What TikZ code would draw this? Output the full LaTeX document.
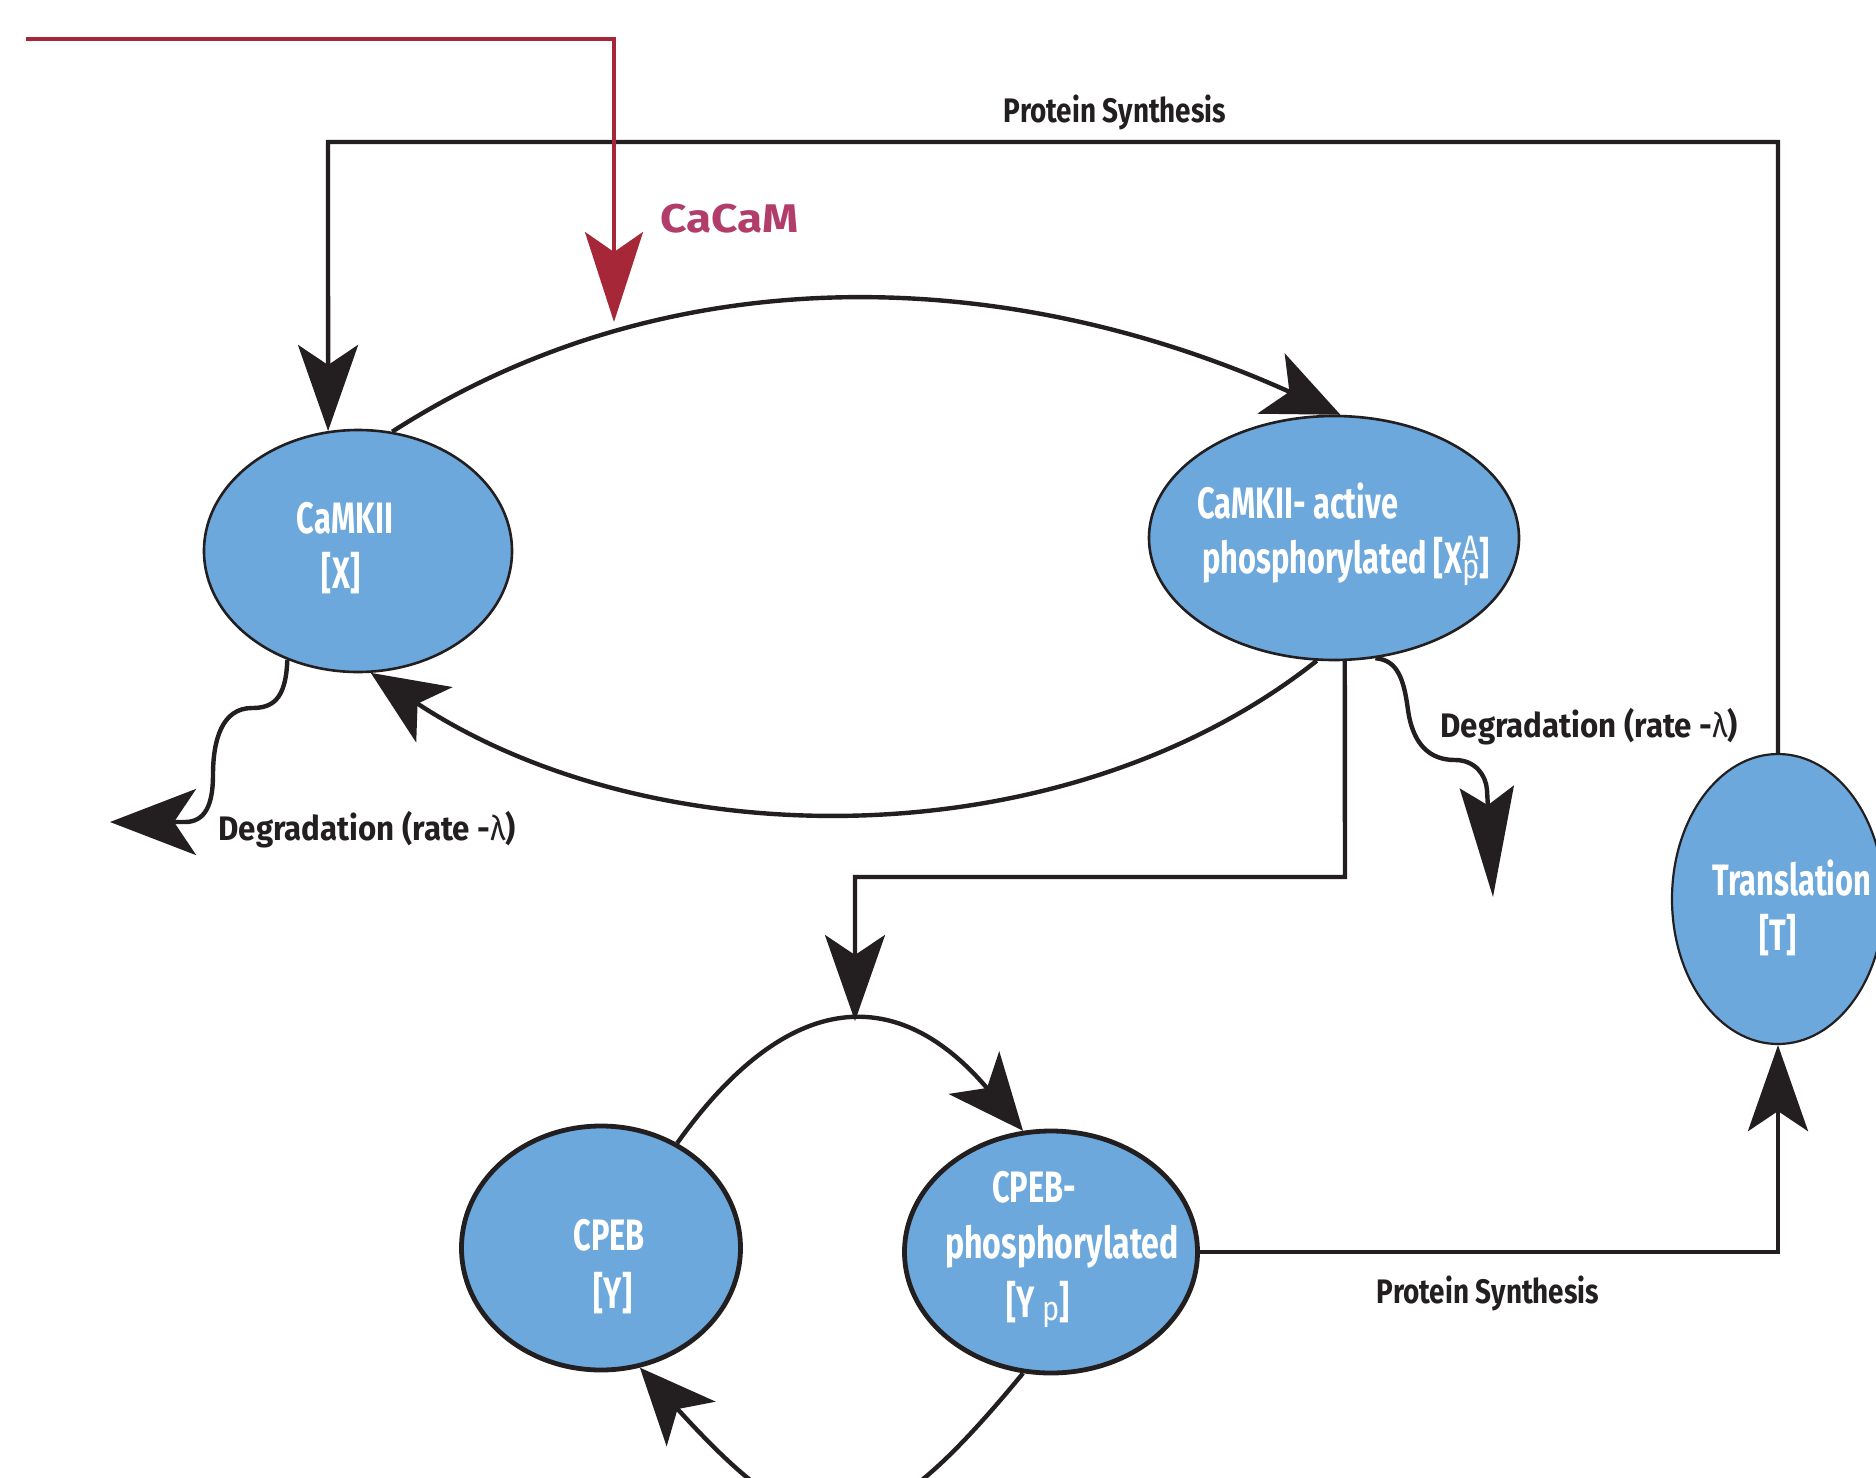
\documentclass[tikz,border=0pt]{standalone}
\usepackage{fontspec}
\usetikzlibrary{shapes.geometric,arrows.meta}
\setmainfont{Fira Sans}
\newfontfamily\condfam[FakeStretch=0.7]{Fira Sans}
\newfontfamily\condwfam[FakeStretch=0.73]{Fira Sans}
\newfontfamily\labfam[FakeStretch=0.82]{Fira Sans}
\newfontfamily\degfam[FakeStretch=0.92]{Fira Sans}
\newfontfamily\supfam[FakeStretch=0.85]{Fira Sans}
\newfontfamily\cafam[FakeStretch=1.15]{Fira Sans}
\newcommand\ndfont{\condfam\bfseries\fontsize{22}{27.5}\selectfont}
\newcommand\lbfont{\labfam\bfseries\fontsize{17}{20}\selectfont}
\newcommand\dgfont{\degfam\bfseries\fontsize{17}{20}\selectfont}
\newcommand\smfont{\supfam\mdseries\fontsize{17}{17}\selectfont}
\newcommand\cacamfont{\cafam\bfseries\fontsize{20}{24}\selectfont}
\definecolor{ink}{RGB}{35,31,32}
\definecolor{nodeblue}{RGB}{108,168,220}
\definecolor{redline}{RGB}{166,40,56}
\definecolor{cacam}{RGB}{178,60,106}
\tikzset{
  blob/.style={ellipse, fill=nodeblue, draw=ink, inner sep=0pt},
  conn/.style={draw=ink, line width=2.2pt},
  tipV/.style={-{Stealth[length=43pt,width=30pt,inset=10pt]}},
  tipC/.style={-{Stealth[length=38pt,width=33pt,inset=10pt]}},
  tipL/.style={-{Stealth[length=43pt,width=33pt,inset=11pt]}},
  tipD/.style={-{Stealth[length=55pt,width=27pt,inset=9pt]}},
  ntext/.style={font=\ndfont, text=white, inner sep=0pt},
  lbl/.style={font=\lbfont, text=ink, inner sep=0pt},
  dlbl/.style={font=\dgfont, text=ink, inner sep=0pt},
}
\begin{document}
\begin{tikzpicture}[x=0.5pt,y=-0.5pt]
\useasboundingbox (0,0) rectangle (1876,1478);
\fill[white] (0,0) rectangle (1876,1478);
\clip (0,0) rectangle (1876,1478);

% nodes
\node[blob, line width=1.3pt, minimum width=154pt, minimum height=121pt] (X) at (358,551) {};
\node[blob, line width=1.3pt, minimum width=185pt, minimum height=122pt] (XA) at (1334,538) {};
\node[blob, line width=1.1pt, minimum width=106pt, minimum height=145pt] (T) at (1778,899) {};
\node[blob, line width=2.4pt, minimum width=139.5pt, minimum height=122pt] (Y) at (601,1248) {};
\node[blob, line width=2.4pt, minimum width=146.5pt, minimum height=121pt] (Yp) at (1051,1252) {};

% node texts
\node[ntext, anchor=base] (Xt1) at (345,533) {CaMKII};
\node[ntext, anchor=base] (Xt2) at (341,588) {[X]};
\node[ntext, anchor=base west, align=left] (XAt) at (1197,573)
  {CaMKII- active\\\hspace{2.5pt}phosphorylated [X\rlap{\raisebox{7pt}{\smfont A}}\raisebox{-2.5pt}{\smfont p}]};
\node[ntext, anchor=base] (Tt1) at (1792,895) {Translation};
\node[ntext, anchor=base] (Tt2) at (1778,950) {[T]};
\node[ntext, anchor=base] (Yt1) at (609,1250) {CPEB};
\node[ntext, anchor=base] (Yt2) at (613,1308) {[Y]};
\node[ntext, anchor=base] (Ypt1) at (1034,1202) {CPEB-};
\node[ntext, font=\condwfam\bfseries\fontsize{22}{27.5}\selectfont, anchor=base] (Ypt2) at (1062,1258) {phosphorylated};
\node[ntext, anchor=base] (Ypt3) at (1038,1317) {[Y\,\raisebox{-1.5pt}{\smfont p}]};

% labels
\node[lbl, anchor=base] (ps1) at (1115,122) {Protein Synthesis};
\node[lbl, anchor=base] (ps2) at (1488,1303) {Protein Synthesis};
\node[dlbl, anchor=base west] (dg1) at (218,840) {Degradation (rate -{\mdseries λ})};
\node[dlbl, anchor=base west] (dg2) at (1440,737) {Degradation (rate -{\mdseries λ})};
\node[font=\cacamfont, text=cacam, anchor=base west, inner sep=0pt] (ca) at (660,232) {CaCaM};

% coordinates
\coordinate (rs) at (26,39);
\coordinate (rc) at (614,39);
\coordinate (rt) at (614,322);
\coordinate (psR) at (1778,142);
\coordinate (psL) at (328,142);
\coordinate (j1) at (1345,877);
\coordinate (j2) at (855,877);
\coordinate (apex) at (855,1021);
\coordinate (dg1end) at (110,822);
\coordinate (dg2end) at (1493,897);

% connectors
\draw[conn, tipV] (T.north) -- (psR) -- (psL) -- (X.104);
\draw[conn, tipC] (X.74) .. controls (675,250) and (1015,268) .. (XA.87);
\draw[conn, tipC] (XA.262) .. controls (1065,860) and (655,860) .. (X.276);
\draw[conn, tipL] (X.237) .. controls (286,700) and (272,708) .. (252,708)
   .. controls (222,708) and (213,740) .. (213,775)
   .. controls (213,805) and (205,822) .. (185,822) -- (dg1end);
\draw[conn, tipD] (XA.289) .. controls (1398,660) and (1404,680) .. (1408,710)
   .. controls (1413,745) and (1430,760) .. (1455,760)
   .. controls (1475,760) and (1486,775) .. (1487,790) -- (dg2end);
\draw[conn, tipV] (XA.275) -- (j1) -- (j2) -- (apex);
\draw[conn, tipC] (Y.54) .. controls (790,985) and (900,985) .. (Yp.103);
\draw[conn, tipC] (Yp.257) .. controls (869,1560) and (815,1560) .. (Y.288);
\draw[conn, tipV] (Yp.east) -- (Yp.east -| T.south) -- (T.south);
\draw[draw=redline, line width=1.7pt, -{Stealth[length=45pt,width=29pt,inset=10pt]}] (rs) -- (rc) -- (rt);
\end{tikzpicture}
\end{document}
